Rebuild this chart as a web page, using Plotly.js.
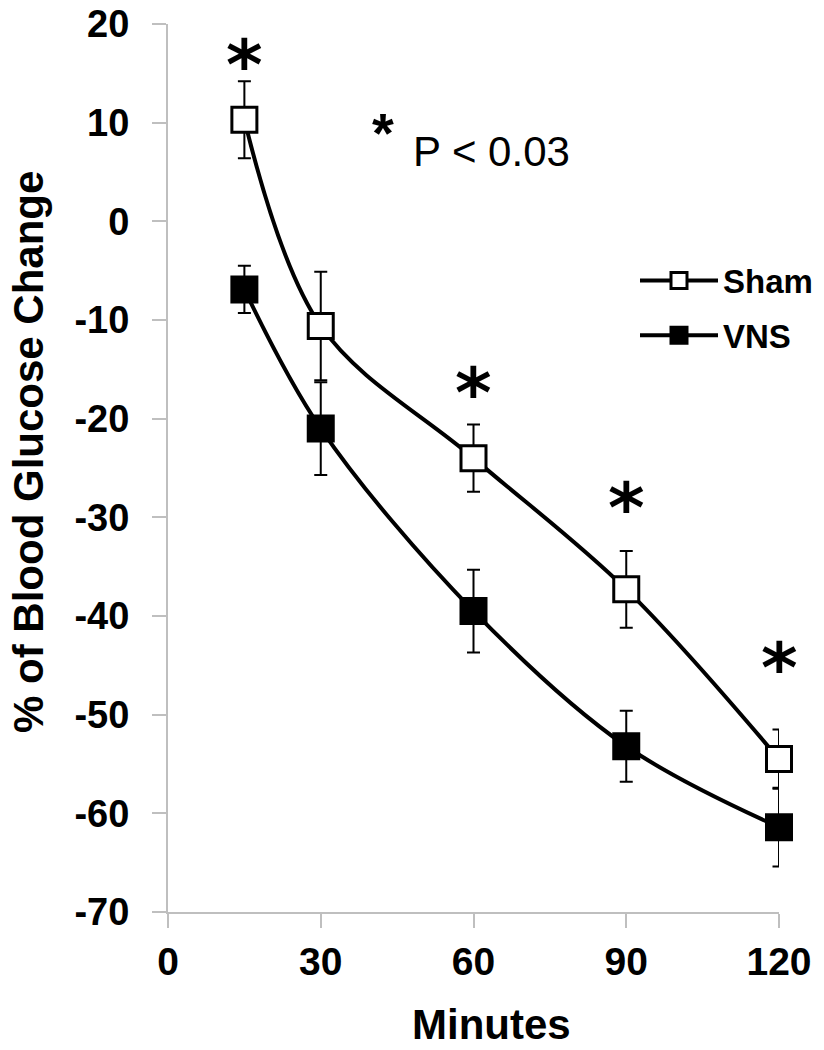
<!DOCTYPE html>
<html>
<head>
<meta charset="utf-8">
<script src="https://cdn.plot.ly/plotly-3.0.1.min.js"></script>
<style>html,body{margin:0;padding:0;background:#fff;}#chart{width:824px;height:1050px;}</style>
</head>
<body>
<div id="chart"></div>
<script>
// ---- data ----
var minutes   = [15, 30, 60, 90, 120];
var shamMean  = [10.3, -10.6, -24.0, -37.3, -54.5];
var shamErr   = [3.9, 5.5, 3.4, 3.9, 3.0];
var vnsMean   = [-6.9, -21.0, -39.5, -53.2, -61.4];
var vnsErr    = [2.4, 4.7, 4.2, 3.6, 4.0];
var xTicks    = [0, 30, 60, 90, 120];
var yTicks    = [-70, -60, -50, -40, -30, -20, -10, 0, 10, 20];
var sigMinutes = [15, 60, 90, 120];
var sigStarY   = [16.9, -16.4, -28.0, -44.3];

var F = 'Liberation Sans, Arial, sans-serif';
var STAR_F = 'DejaVu Sans, sans-serif';
var AX = '#bfbfbf';
var W = 824, H = 1050, M = {l: 168, r: 45, t: 24, b: 138, autoexpand: false};
function px(x) { return (x - M.l) / (W - M.l - M.r); }
function py(y) { return 1 - (y - M.t) / (H - M.t - M.b); }

var sham = {
  x: minutes, y: shamMean, name: 'Sham', legendgroup: 'a', type: 'scatter', mode: 'lines+markers',
  line: {color: '#000', width: 4, shape: 'spline', smoothing: 1},
  marker: {symbol: 'square', size: 25, color: '#fff', line: {color: '#000', width: 3}},
  error_y: {type: 'data', array: shamErr, visible: true, color: '#000', thickness: 2, width: 6.5},
  cliponaxis: false
};
var vns = {
  x: minutes, y: vnsMean, name: 'VNS', legendgroup: 'b', type: 'scatter', mode: 'lines+markers',
  line: {color: '#000', width: 4, shape: 'spline', smoothing: 1},
  marker: {symbol: 'square', size: 25, color: '#000', line: {color: '#000', width: 3}},
  error_y: {type: 'data', array: vnsErr, visible: true, color: '#000', thickness: 2, width: 6.5},
  cliponaxis: false
};

var annotations = sigMinutes.map(function (m, i) {
  return {x: m, y: sigStarY[i], xref: 'x', yref: 'y', text: '*', showarrow: false,
          xanchor: 'center', yanchor: 'middle', yshift: -10,
          font: {family: STAR_F, size: 70, weight: 'bold', color: '#000'}};
});
annotations.push({x: px(383), y: py(132), xref: 'paper', yref: 'paper', text: '*', showarrow: false,
  font: {family: F, size: 56, weight: 'bold', color: '#000'}, xanchor: 'center', yanchor: 'middle'});
annotations.push({x: px(411), y: py(151), xref: 'paper', yref: 'paper', text: 'P < 0.03', showarrow: false,
  font: {family: F, size: 42, color: '#000'}, xanchor: 'left', yanchor: 'middle'});
annotations.push({x: px(491), y: py(1024), xref: 'paper', yref: 'paper', text: 'Minutes', showarrow: false,
  font: {family: F, size: 42, weight: 'bold', color: '#000'}, xanchor: 'center', yanchor: 'middle'});
annotations.push({x: px(29), y: py(452), xref: 'paper', yref: 'paper', text: '% of Blood Glucose Change',
  textangle: -90, showarrow: false,
  font: {family: F, size: 42, weight: 'bold', color: '#000'}, xanchor: 'center', yanchor: 'middle'});

var layout = {
  width: W, height: H,
  margin: M,
  paper_bgcolor: '#fff', plot_bgcolor: '#fff',
  showlegend: true,
  legend: {x: px(635), y: py(308), xanchor: 'left', yanchor: 'middle', bgcolor: 'rgba(0,0,0,0)',
           traceorder: 'grouped', tracegroupgap: 9,
           font: {family: F, size: 33, weight: 'bold', color: '#000'}, itemwidth: 78},
  xaxis: {
    range: [0, 120], tickvals: xTicks, ticktext: xTicks.map(String),
    showline: true, linecolor: AX, linewidth: 2, ticks: 'outside', ticklen: 14, tickwidth: 2, tickcolor: AX,
    showgrid: false, zeroline: false,
    tickfont: {family: F, size: 39, weight: 'bold', color: '#000'}
  },
  yaxis: {
    range: [-70, 20], tickvals: yTicks, ticktext: yTicks.map(String),
    showline: true, linecolor: AX, linewidth: 2, ticks: 'outside', ticklen: 14, tickwidth: 2, tickcolor: AX,
    showgrid: false, zeroline: false, ticklabelstandoff: 15,
    tickfont: {family: F, size: 38, weight: 'bold', color: '#000'}
  },
  annotations: annotations
};

Plotly.newPlot('chart', [sham, vns], layout, {displayModeBar: false, staticPlot: true});
</script>
</body>
</html>
